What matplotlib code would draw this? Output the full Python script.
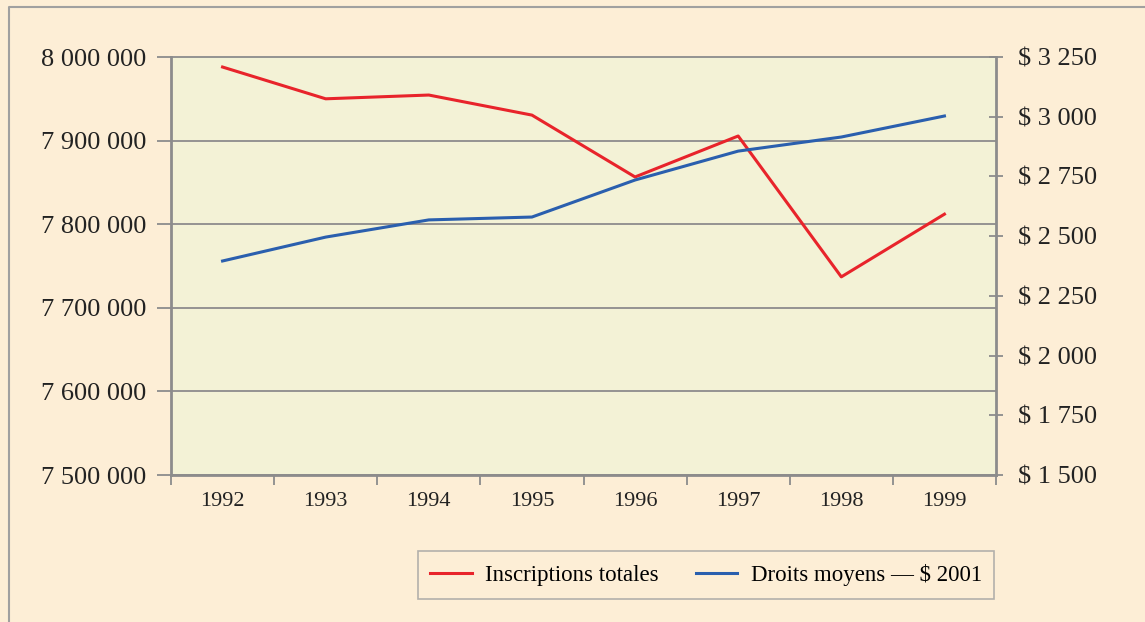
import matplotlib
matplotlib.use('Agg')
import matplotlib.pyplot as plt
from matplotlib.lines import Line2D
import numpy as np

# données
annees = ['1992', '1993', '1994', '1995', '1996', '1997', '1998', '1999']
inscriptions = [7988000, 7950000, 7954500, 7930500, 7856500, 7905500, 7737000, 7812000]
droits = [2396, 2496, 2568, 2580, 2735, 2856, 2915, 3003]

left_ticks = [7500000, 7600000, 7700000, 7800000, 7900000, 8000000]
right_ticks = [1500, 1750, 2000, 2250, 2500, 2750, 3000, 3250]

plt.rcParams['font.family'] = ['Liberation Serif', 'DejaVu Serif']

fond = '#fdeed6'
fig = plt.figure(figsize=(11.45, 6.22), dpi=100)
fig.patch.set_facecolor(fond)
# bordure gauche et haute seulement
x0, y0 = 8.5 / 1145, 1 - 6.5 / 622
fig.lines.append(Line2D([x0, x0, 1], [0, y0, y0], transform=fig.transFigure,
                        color='#a0a0a0', linewidth=1.5))

ax = fig.add_axes([171 / 1145, 1 - 475 / 622, (996 - 171) / 1145, (475 - 57) / 622])
ax.set_facecolor('#f3f2d6')
x = np.arange(len(annees))

gris = '#8c8c8c'
texte = '#222222'
ax.plot(x, inscriptions, color='#e8242b', linewidth=2.2, label='Inscriptions totales', zorder=3)
ax.set_xlim(-0.5, len(annees) - 0.5)
ax.set_ylim(7500000, 8000000)
ax.set_yticks(left_ticks)
ax.set_yticklabels([f'{v:,}'.replace(',', ' ') for v in left_ticks], fontsize=19, color=texte)
ax.yaxis.grid(True, color=gris, linewidth=1.3)
for gl in ax.get_ygridlines():
    gl.set_clip_on(False)
ax.set_axisbelow(True)

ax.set_xticks(np.arange(-0.5, len(annees), 1))
ax.set_xticklabels([])
ax.set_xticks(x, minor=True)
ax.set_xticklabels(annees, minor=True, fontsize=16, color=texte)
ax.tick_params(axis='x', which='minor', length=0, pad=12)
ax.tick_params(axis='x', which='major', length=7, color=gris, width=1.3)
ax.tick_params(axis='y', length=10, color=gris, width=1.3, pad=8)

for s in ['left', 'bottom']:
    ax.spines[s].set_color(gris)
    ax.spines[s].set_linewidth(2)
ax.spines['top'].set_visible(False)
ax.spines['right'].set_visible(False)

ax2 = ax.twinx()
ax2.plot(x, droits, color='#2a5fae', linewidth=2.2, label='Droits moyens — $ 2001', zorder=3)
ax2.set_ylim(1500, 3250)
ax2.set_yticks(right_ticks)
ax2.set_yticklabels([f'$ {v:,}'.replace(',', ' ') for v in right_ticks], fontsize=19, color=texte)
ax2.tick_params(axis='y', direction='inout', length=10, color=gris, width=1.3, pad=11)
for s in ['left', 'bottom', 'top']:
    ax2.spines[s].set_visible(False)
ax2.spines['right'].set_color(gris)
ax2.spines['right'].set_linewidth(2)

h1, l1 = ax.get_legend_handles_labels()
h2, l2 = ax2.get_legend_handles_labels()
leg = fig.legend(h1 + h2, l1 + l2, ncol=2, loc='center', bbox_to_anchor=(706 / 1145, 1 - 575 / 622),
                 fontsize=16.5, frameon=True, fancybox=False, handlelength=1.8,
                 columnspacing=1.6, borderpad=0.55, handletextpad=0.6)
leg.get_frame().set_edgecolor('#a0a0a0')
leg.get_frame().set_facecolor(fond)
leg.get_frame().set_linewidth(1.2)

fig.savefig('out.png', dpi=100, facecolor=fig.get_facecolor())
